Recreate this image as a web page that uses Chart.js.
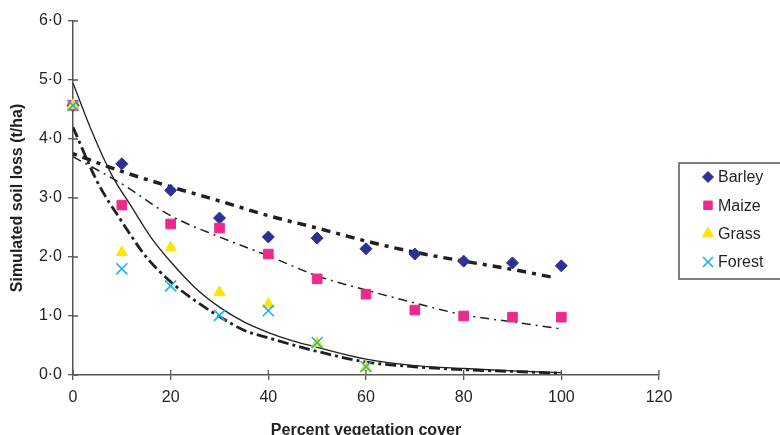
<!DOCTYPE html>
<html>
<head>
<meta charset="utf-8">
<script src="https://cdn.jsdelivr.net/npm/chart.js@4.4.1/dist/chart.umd.min.js"></script>
<style>
  html, body { margin: 0; padding: 0; background: #fff; overflow: hidden; }
  #wrap { width: 780px; height: 445px; }
</style>
</head>
<body>
<div id="wrap"><canvas id="grafica" width="780" height="445"></canvas></div>
<script>
// Datos
const cover = [0, 10, 20, 30, 40, 50, 60, 70, 80, 90, 100];
const barley = [4.57, 3.58, 3.13, 2.66, 2.34, 2.32, 2.14, 2.05, 1.93, 1.90, 1.85];
const maize = [4.57, 2.88, 2.56, 2.49, 2.05, 1.63, 1.37, 1.10, 1.00, 0.98, 0.98];
const grass = [4.57, 2.08, 2.16, 1.40, 1.20, 0.54, 0.13];
const forest = [4.57, 1.80, 1.51, 1.01, 1.09, 0.55, 0.14];

// Curvas de ajuste
const barleyFitX = [0, 10, 20, 30, 40, 50, 60, 70, 80, 90, 98];
const barleyFit = [3.75, 3.45, 3.19, 2.95, 2.70, 2.49, 2.27, 2.08, 1.93, 1.79, 1.66];
const maizeFitX = [0, 10, 20, 30, 40, 50, 60, 70, 80, 90, 100];
const maizeFit = [3.70, 3.24, 2.70, 2.34, 2.02, 1.68, 1.44, 1.22, 1.02, 0.90, 0.78];
const grassFitX = [0, 4, 8, 12, 16, 20, 25, 30, 35, 40, 45, 50, 60, 70, 80, 90, 100];
const grassFit = [4.95, 4.10, 3.38, 2.85, 2.33, 1.92, 1.48, 1.15, 0.90, 0.72, 0.58, 0.47, 0.27, 0.16, 0.11, 0.07, 0.04];
const forestFitX = [0, 5, 10, 15, 20, 25, 30, 35, 40, 45, 50, 60, 70, 80, 90, 100];
const forestFit = [4.20, 3.27, 2.60, 2.00, 1.58, 1.26, 0.99, 0.76, 0.63, 0.51, 0.40, 0.22, 0.14, 0.09, 0.06, 0.03];

const yTicks = [0, 1, 2, 3, 4, 5, 6];
const xTicks = [0, 20, 40, 60, 80, 100, 120];

function pares(xs, ys) {
    return ys.map((v, i) => ({ x: xs[i], y: v }));
}

const ink = '#231f20';
const axisColor = '#555';

const puntos = [
    { label: 'Barley', data: pares(cover, barley), color: '#2e3192', style: 'rectRot', r: 6, lr: 5.5, order: 4 },
    { label: 'Maize', data: pares(cover, maize), color: '#ec2a8c', style: 'rect', r: 6.8, lr: 6, order: 3 },
    { label: 'Grass', data: pares(cover, grass), color: '#ffe500', style: 'triangle', r: 6.5, lr: 6.5, order: 2 },
    { label: 'Forest', data: pares(cover, forest), color: '#19b5ec', style: 'crossRot', r: 7.8, lr: 7, order: 1 }
];

const datasets = puntos.map(p => ({
    label: p.label,
    data: p.data,
    pointStyle: p.style,
    pointRadius: p.r,
    pointHoverRadius: p.r,
    backgroundColor: p.color,
    borderColor: p.color,
    borderWidth: p.style === 'crossRot' ? 1.6 : 1,
    clip: false,
    order: p.order
}));

function ajuste(xs, ys, width, dash) {
    return {
        label: 'fit',
        data: pares(xs, ys),
        showLine: true,
        pointRadius: 0,
        borderColor: ink,
        borderWidth: width,
        borderDash: dash,
        tension: 0.4,
        cubicInterpolationMode: 'monotone',
        fill: false,
        order: 10
    };
}

datasets.push(ajuste(barleyFitX, barleyFit, 3.5, [4, 6, 9, 6]));
datasets.push(ajuste(maizeFitX, maizeFit, 1.5, [9, 5, 2, 5]));
datasets.push(ajuste(grassFitX, grassFit, 1.3, []));
datasets.push(ajuste(forestFitX, forestFit, 2.8, [11, 4, 3, 4]));

// Marcas de los ejes que cruzan la línea, y la leyenda con marco
const extras = {
    id: 'extras',
    afterDraw(chart) {
        const ctx = chart.ctx;
        const xs = chart.scales.x, ys = chart.scales.y;
        const area = chart.chartArea;
        ctx.save();
        ctx.strokeStyle = axisColor;
        ctx.lineWidth = 1.3;
        ctx.beginPath();
        xTicks.forEach(t => {
            const px = xs.getPixelForValue(t);
            ctx.moveTo(px, area.bottom);
            ctx.lineTo(px, area.bottom - 5);
        });
        yTicks.forEach(t => {
            const py = ys.getPixelForValue(t);
            ctx.moveTo(area.left, py);
            ctx.lineTo(area.left + 5, py);
        });
        ctx.stroke();

        // leyenda
        ctx.strokeStyle = '#555';
        ctx.lineWidth = 1.5;
        ctx.strokeRect(679, 163, 120, 116);
        ctx.font = '16px "Liberation Sans", Arial, sans-serif';
        ctx.textBaseline = 'middle';
        puntos.forEach((p, i) => {
            const y = 177 + i * 28.3;
            ctx.fillStyle = p.color;
            ctx.strokeStyle = p.color;
            const bw = p.style === 'crossRot' ? 1.6 : 1;
            ctx.lineWidth = bw;
            Chart.helpers.drawPoint(ctx, { pointStyle: p.style, radius: p.lr, rotation: 0, borderWidth: bw }, 708, y);
            ctx.fillStyle = ink;
            ctx.fillText(p.label, 718, y + 1);
        });
        ctx.restore();
    }
};

const chart = new Chart(document.getElementById('grafica').getContext('2d'), {
    type: 'scatter',
    data: { datasets: datasets },
    options: {
        responsive: false,
        animation: false,
        layout: { padding: { top: 21, right: 121, left: 0, bottom: 0 } },
        plugins: {
            legend: { display: false },
            tooltip: { enabled: false }
        },
        scales: {
            x: {
                type: 'linear',
                min: 0,
                max: 120,
                afterFit: function(scale) { scale.height = 70; },
                afterBuildTicks: function(scale) { scale.ticks = xTicks.map(v => ({ value: v })); },
                border: { color: axisColor, width: 1.5 },
                grid: { drawOnChartArea: false, tickLength: 5, color: axisColor, lineWidth: 1.3 },
                ticks: {
                    padding: 8,
                    color: ink,
                    font: { size: 16, family: '"Liberation Sans", Arial, sans-serif' }
                },
                title: {
                    display: true,
                    text: 'Percent vegetation cover',
                    color: ink,
                    padding: { top: 5, bottom: 5 },
                    font: { size: 16, weight: 'bold', family: '"Liberation Sans", Arial, sans-serif' }
                }
            },
            y: {
                min: 0,
                max: 6,
                afterFit: function(scale) { scale.width = 73; },
                afterBuildTicks: function(scale) { scale.ticks = yTicks.map(v => ({ value: v })); },
                border: { color: axisColor, width: 1.5 },
                grid: { drawOnChartArea: false, tickLength: 5, color: axisColor, lineWidth: 1.3 },
                ticks: {
                    padding: 6,
                    color: ink,
                    font: { size: 16, family: '"Liberation Sans", Arial, sans-serif' },
                    callback: function(value) {
                        return value.toFixed(1).replace('.', '\u00b7');
                    }
                },
                title: {
                    display: true,
                    text: 'Simulated soil loss (t/ha)',
                    color: ink,
                    padding: { top: 8, bottom: 8 },
                    font: { size: 16, weight: 'bold', family: '"Liberation Sans", Arial, sans-serif' }
                }
            }
        }
    },
    plugins: [extras]
});
</script>
</body>
</html>
